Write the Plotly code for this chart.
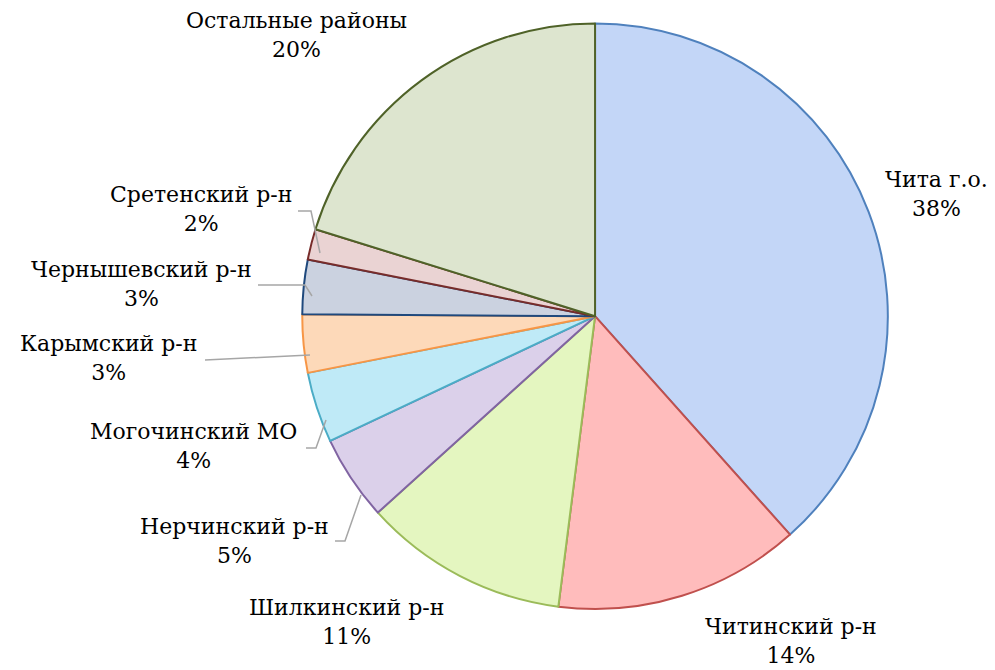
import plotly.graph_objects as go

# Доли районов (в процентах), по часовой стрелке от 12 часов
rayony = ['Чита г.о.', 'Читинский р-н', 'Шилкинский р-н', 'Нерчинский р-н',
          'Могочинский МО', 'Карымский р-н', 'Чернышевский р-н',
          'Сретенский р-н', 'Остальные районы']
doli = [38.4, 13.6, 11.3, 4.7, 3.9, 3.2, 3.0, 1.7, 20.2]

zalivka = ['#c3d6f7', '#ffbcbc', '#e4f6c0', '#dbd0ea', '#bfeaf7',
           '#fdd9b9', '#cbd2e0', '#ead3d3', '#dde5cf']
kontur = ['#4f81bd', '#c0504d', '#9bbb59', '#8064a2', '#4bacc6',
          '#f79646', '#1f497d', '#772c2a', '#4f6228']

W, H = 995, 670

# положение подписей (центр блока подписи, пиксели)
podpisi_xy = [(928, 186), (783, 633), (338, 614), (226, 533), (185, 438),
              (100, 350), (133, 276), (193, 201), (288, 27)]

# выноски для мелких секторов (пиксели)
vynoski = [
    [(290, 203), (303, 203), (312, 245)],
    [(250, 277), (297, 277), (304, 288)],
    [(197, 352), (302, 347)],
    [(298, 440), (308, 440), (318, 412)],
    [(327, 533), (337, 533), (353, 487)],
]


def px(x, y):
    return x / W, 1 - y / H


fig = go.Figure()

fig.add_trace(go.Pie(
    labels=rayony,
    values=doli,
    sort=False,
    direction='clockwise',
    rotation=0,
    marker=dict(colors=zalivka, line=dict(color=kontur, width=2)),
    textinfo='none',
    domain=dict(x=[0.2955, 0.8845], y=[0.103, 0.977]),
    showlegend=False,
    hoverinfo='label+percent'
))

summa = sum(doli)
for name, v, (x, y) in zip(rayony, doli, podpisi_xy):
    ax, ay = px(x, y)
    fig.add_annotation(
        x=ax, y=ay, xref='paper', yref='paper',
        text=f'{name}<br>{round(v / summa * 100)}%',
        showarrow=False, xanchor='center', yanchor='middle', align='center',
        font=dict(family='DejaVu Serif', size=22, color='black')
    )

for tochki in vynoski:
    put = ''
    for i, (x, y) in enumerate(tochki):
        a, b = px(x, y)
        put += ('M' if i == 0 else 'L') + f'{a},{b} '
    fig.add_shape(type='path', path=put.strip(), xref='paper', yref='paper',
                  line=dict(color='#a6a6a6', width=1.5))

fig.update_layout(
    width=W, height=H,
    margin=dict(l=0, r=0, t=0, b=0),
    paper_bgcolor='white',
    plot_bgcolor='white'
)

fig.write_html("out.html")
